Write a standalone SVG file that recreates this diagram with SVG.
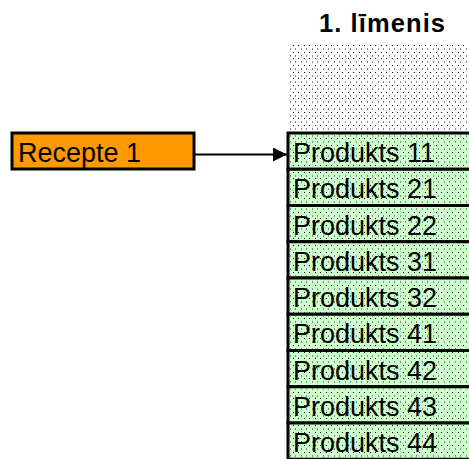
<svg xmlns="http://www.w3.org/2000/svg" width="469" height="459" viewBox="0 0 469 459">
  <style>
    .lbl { font-family: "Liberation Sans", Arial, sans-serif; font-size: 27px; fill: #000; }
    .title { font-family: "Liberation Sans", Arial, sans-serif; font-size: 25.5px; font-weight: bold; fill: #000; }
    .prod { fill: #CCFFCC; stroke: #000; stroke-width: 3; }
    .dots { fill: url(#dotpat); stroke: none; }
    .bd { fill: #111; }
    .gd { fill: #8a8a8a; }
  </style>
  <defs>
    <pattern id="dotpat" patternUnits="userSpaceOnUse" x="1" y="5" width="11" height="20">
      <rect class="bd" x="0" y="0" width="1" height="1"/>
      <rect class="bd" x="6" y="0" width="1" height="1"/>
      <rect class="bd" x="0" y="7" width="1" height="1"/>
      <rect class="bd" x="6" y="7" width="1" height="1"/>
      <rect class="bd" x="0" y="13" width="1" height="1"/>
      <rect class="bd" x="6" y="13" width="1" height="1"/>
      <rect class="gd" x="3" y="3" width="1" height="2"/>
      <rect class="gd" x="8" y="3" width="1" height="2"/>
      <rect class="gd" x="3" y="10" width="1" height="2"/>
      <rect class="gd" x="8" y="10" width="1" height="2"/>
      <rect class="gd" x="3" y="16" width="1" height="2"/>
      <rect class="gd" x="8" y="16" width="1" height="2"/>
    </pattern>
    <marker id="arrow" markerWidth="14" markerHeight="14" refX="14" refY="7" orient="auto" markerUnits="userSpaceOnUse">
      <path d="M0,0 L14,7 L0,14 Z" fill="#000"/>
    </marker>
  </defs>
  <rect x="0" y="0" width="469" height="459" fill="#fff"/>
  <text class="title" x="319" y="32" textLength="126" lengthAdjust="spacing">1. līmenis</text>
  <rect class="dots" x="288" y="43" width="181" height="90"/>

  <g id="recepte1">
    <rect x="12" y="133" width="182" height="36" fill="#FF9900" stroke="#000" stroke-width="3"/>
    <text class="lbl" x="18" y="162">Recepte 1</text>
  </g>

  <g id="connectors">
    <line x1="195" y1="154.5" x2="287" y2="154.5" stroke="#000" stroke-width="2" marker-end="url(#arrow)"/>
  </g>

  <g id="p11"><rect class="prod" x="288" y="133" width="190" height="36.25"/><rect class="dots" x="290" y="134.5" width="179" height="33.25"/><text class="lbl" x="293" y="162">Produkts 11</text></g>
  <g id="p21"><rect class="prod" x="288" y="169.25" width="190" height="36.25"/><rect class="dots" x="290" y="170.75" width="179" height="33.25"/><text class="lbl" x="293" y="198.25">Produkts 21</text></g>
  <g id="p22"><rect class="prod" x="288" y="205.5" width="190" height="36.25"/><rect class="dots" x="290" y="207" width="179" height="33.25"/><text class="lbl" x="293" y="234.5">Produkts 22</text></g>
  <g id="p31"><rect class="prod" x="288" y="241.75" width="190" height="36.25"/><rect class="dots" x="290" y="243.25" width="179" height="33.25"/><text class="lbl" x="293" y="270.75">Produkts 31</text></g>
  <g id="p32"><rect class="prod" x="288" y="278" width="190" height="36.25"/><rect class="dots" x="290" y="279.5" width="179" height="33.25"/><text class="lbl" x="293" y="307">Produkts 32</text></g>
  <g id="p41"><rect class="prod" x="288" y="314.25" width="190" height="36.25"/><rect class="dots" x="290" y="315.75" width="179" height="33.25"/><text class="lbl" x="293" y="343.25">Produkts 41</text></g>
  <g id="p42"><rect class="prod" x="288" y="350.5" width="190" height="36.25"/><rect class="dots" x="290" y="352" width="179" height="33.25"/><text class="lbl" x="293" y="379.5">Produkts 42</text></g>
  <g id="p43"><rect class="prod" x="288" y="386.75" width="190" height="36.25"/><rect class="dots" x="290" y="388.25" width="179" height="33.25"/><text class="lbl" x="293" y="415.75">Produkts 43</text></g>
  <g id="p44"><rect class="prod" x="288" y="423" width="190" height="36.25"/><rect class="dots" x="290" y="424.5" width="179" height="33.25"/><text class="lbl" x="293" y="452">Produkts 44</text></g>
</svg>
